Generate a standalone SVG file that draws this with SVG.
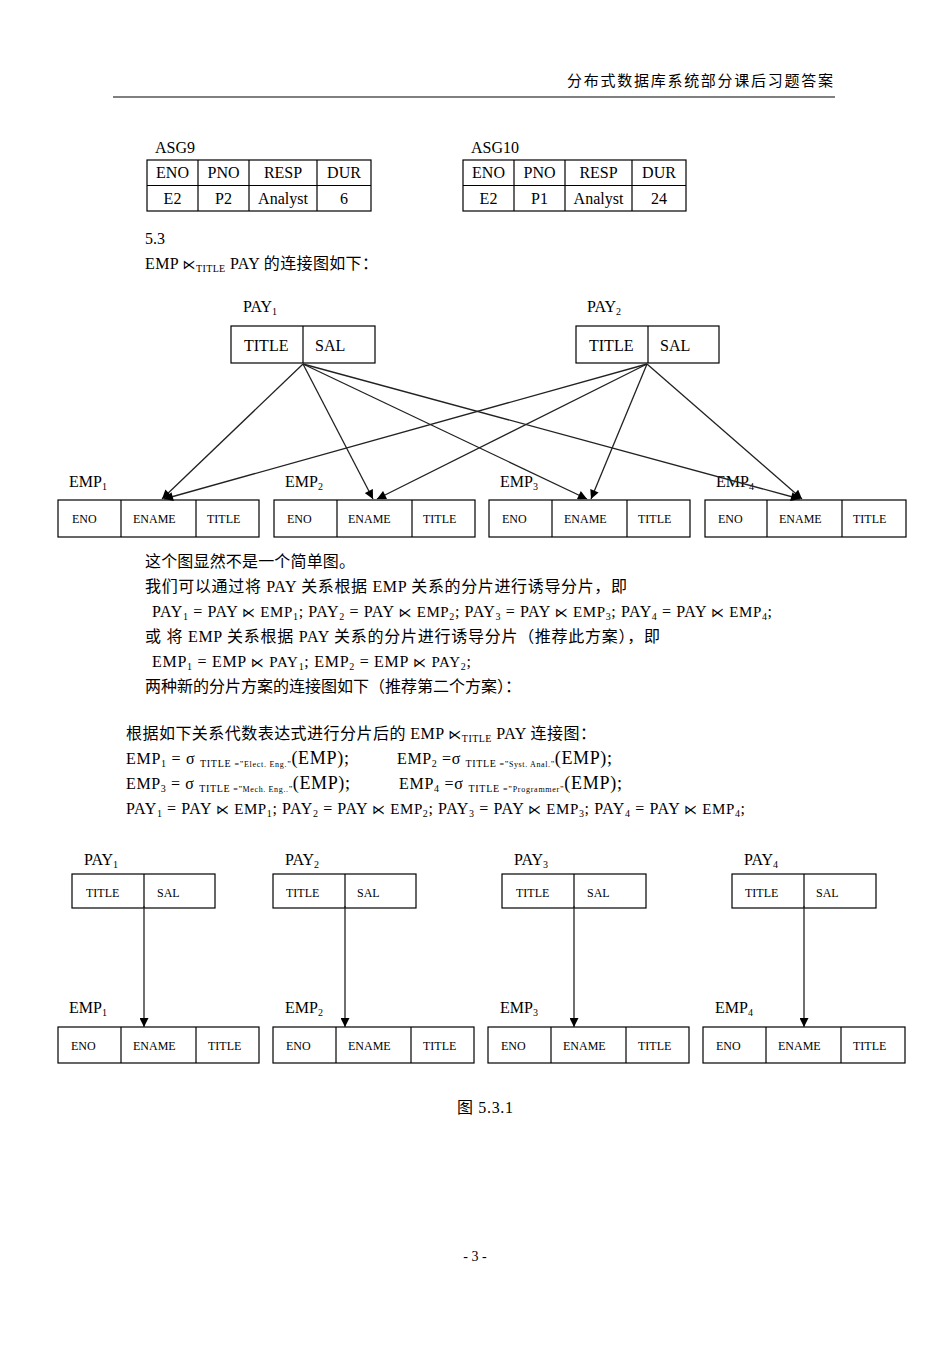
<svg xmlns="http://www.w3.org/2000/svg" width="950" height="1345" viewBox="0 0 950 1345">
<style>
text{font-family:"Liberation Serif","Noto Sans CJK SC",serif;fill:#000}
.b{font-size:16px}
.s{font-size:12px}
.sub{font-size:10px}
.sj{font-family:"DejaVu Sans",sans-serif;font-size:13px}
.box{fill:#fff;stroke:#000;stroke-width:1.2}
.ln{stroke:#000;stroke-width:1.2}
.con{stroke:#222;stroke-width:1.3;fill:none}
.mid{text-anchor:middle}
</style>
<defs>
<marker id="ah" viewBox="0 0 10 10" refX="10" refY="5" markerWidth="10" markerHeight="9" markerUnits="userSpaceOnUse" orient="auto"><path d="M0,0 L10,5 L0,10 z" fill="#000"/></marker>
</defs>
<rect width="950" height="1345" fill="#fff"/>

<g id="header">
<text x="833" y="86" font-size="15" text-anchor="end" textLength="266" font-family="Noto Sans CJK SC, sans-serif">分布式数据库系统部分课后习题答案</text>
<line x1="113" y1="97" x2="835" y2="97" stroke="#000" stroke-width="1"/>
</g>

<g id="asg9">
<text x="155" y="153" class="b">ASG9</text>
<rect x="147" y="160" width="224" height="51" class="box"/>
<line x1="147" y1="185.5" x2="371" y2="185.5" class="ln"/>
<line x1="198" y1="160" x2="198" y2="211" class="ln"/>
<line x1="249" y1="160" x2="249" y2="211" class="ln"/>
<line x1="317" y1="160" x2="317" y2="211" class="ln"/>
<text class="b mid" x="172.5" y="178">ENO</text><text class="b mid" x="223.5" y="178">PNO</text><text class="b mid" x="283" y="178">RESP</text><text class="b mid" x="344" y="178">DUR</text>
<text class="b mid" x="172.5" y="204">E2</text><text class="b mid" x="223.5" y="204">P2</text><text class="b mid" x="283" y="204">Analyst</text><text class="b mid" x="344" y="204">6</text>
</g>

<g id="asg10">
<text x="471" y="153" class="b">ASG10</text>
<rect x="463" y="160" width="223" height="51" class="box"/>
<line x1="463" y1="185.5" x2="686" y2="185.5" class="ln"/>
<line x1="514" y1="160" x2="514" y2="211" class="ln"/>
<line x1="565" y1="160" x2="565" y2="211" class="ln"/>
<line x1="632" y1="160" x2="632" y2="211" class="ln"/>
<text class="b mid" x="488.5" y="178">ENO</text><text class="b mid" x="539.5" y="178">PNO</text><text class="b mid" x="598.5" y="178">RESP</text><text class="b mid" x="659" y="178">DUR</text>
<text class="b mid" x="488.5" y="204">E2</text><text class="b mid" x="539.5" y="204">P1</text><text class="b mid" x="598.5" y="204">Analyst</text><text class="b mid" x="659" y="204">24</text>
</g>

<g id="sec53">
<text x="145" y="244" class="b">5.3</text>
<text x="145" y="269" class="b" textLength="233" lengthAdjust="spacing">EMP <tspan class="sj">⋉</tspan><tspan font-size="10" dy="3">TITLE</tspan><tspan dy="-3"> PAY 的连接图如下：</tspan></text>
</g>

<g id="top-pay1">
<text x="243" y="312" class="b">PAY<tspan class="sub" dy="3">1</tspan></text>
<rect x="231" y="326" width="144" height="37" class="box"/>
<line x1="303" y1="326" x2="303" y2="363" class="ln"/>
<text x="244" y="351" class="b">TITLE</text><text x="315" y="351" class="b">SAL</text>
</g>
<g id="top-pay2">
<text x="587" y="312" class="b">PAY<tspan class="sub" dy="3">2</tspan></text>
<rect x="576" y="326" width="143" height="37" class="box"/>
<line x1="648" y1="326" x2="648" y2="363" class="ln"/>
<text x="589" y="351" class="b">TITLE</text><text x="660" y="351" class="b">SAL</text>
</g>

<g id="top-emp1">
<text x="69" y="487" class="b">EMP<tspan class="sub" dy="3">1</tspan></text>
<rect x="58" y="500" width="201" height="37" class="box"/>
<line x1="121" y1="500" x2="121" y2="537" class="ln"/><line x1="196" y1="500" x2="196" y2="537" class="ln"/>
<text x="72" y="523" class="s">ENO</text><text x="133" y="523" class="s">ENAME</text><text x="207" y="523" class="s">TITLE</text>
</g>
<g id="top-emp2">
<text x="285" y="487" class="b">EMP<tspan class="sub" dy="3">2</tspan></text>
<rect x="274" y="500" width="201" height="37" class="box"/>
<line x1="337" y1="500" x2="337" y2="537" class="ln"/><line x1="412" y1="500" x2="412" y2="537" class="ln"/>
<text x="287" y="523" class="s">ENO</text><text x="348" y="523" class="s">ENAME</text><text x="423" y="523" class="s">TITLE</text>
</g>
<g id="top-emp3">
<text x="500" y="487" class="b">EMP<tspan class="sub" dy="3">3</tspan></text>
<rect x="489" y="500" width="201" height="37" class="box"/>
<line x1="552" y1="500" x2="552" y2="537" class="ln"/><line x1="627" y1="500" x2="627" y2="537" class="ln"/>
<text x="502" y="523" class="s">ENO</text><text x="564" y="523" class="s">ENAME</text><text x="638" y="523" class="s">TITLE</text>
</g>
<g id="top-emp4">
<text x="716" y="487" class="b">EMP<tspan class="sub" dy="3">4</tspan></text>
<rect x="705" y="500" width="201" height="37" class="box"/>
<line x1="767" y1="500" x2="767" y2="537" class="ln"/><line x1="842" y1="500" x2="842" y2="537" class="ln"/>
<text x="718" y="523" class="s">ENO</text><text x="779" y="523" class="s">ENAME</text><text x="853" y="523" class="s">TITLE</text>
</g>

<g id="top-connectors">
<line x1="303" y1="364" x2="162" y2="499" class="con" marker-end="url(#ah)"/>
<line x1="303" y1="364" x2="373" y2="499" class="con" marker-end="url(#ah)"/>
<line x1="303" y1="364" x2="587" y2="499" class="con" marker-end="url(#ah)"/>
<line x1="303" y1="364" x2="800" y2="499" class="con" marker-end="url(#ah)"/>
<line x1="647" y1="364" x2="164" y2="499" class="con" marker-end="url(#ah)"/>
<line x1="647" y1="364" x2="377" y2="499" class="con" marker-end="url(#ah)"/>
<line x1="647" y1="364" x2="591" y2="499" class="con" marker-end="url(#ah)"/>
<line x1="647" y1="364" x2="802" y2="499" class="con" marker-end="url(#ah)"/>
</g>

<g id="paragraph">
<text x="145" y="567" class="b" textLength="210" lengthAdjust="spacing">这个图显然不是一个简单图。</text>
<text x="145" y="592" class="b" textLength="482" lengthAdjust="spacing">我们可以通过将 PAY 关系根据 EMP 关系的分片进行诱导分片，即</text>
<text x="152" y="617" class="b" textLength="620" lengthAdjust="spacing">PAY<tspan class="sub" dy="3">1</tspan><tspan dy="-3"> = PAY </tspan><tspan class="sj">⋉</tspan><tspan font-size="15"> EMP</tspan><tspan class="sub" dy="3">1</tspan><tspan dy="-3">; PAY</tspan><tspan class="sub" dy="3">2</tspan><tspan dy="-3"> = PAY </tspan><tspan class="sj">⋉</tspan><tspan font-size="15"> EMP</tspan><tspan class="sub" dy="3">2</tspan><tspan dy="-3">; PAY</tspan><tspan class="sub" dy="3">3</tspan><tspan dy="-3"> = PAY </tspan><tspan class="sj">⋉</tspan><tspan font-size="15"> EMP</tspan><tspan class="sub" dy="3">3</tspan><tspan dy="-3">; PAY</tspan><tspan class="sub" dy="3">4</tspan><tspan dy="-3"> = PAY </tspan><tspan class="sj">⋉</tspan><tspan font-size="15"> EMP</tspan><tspan class="sub" dy="3">4</tspan><tspan dy="-3">;</tspan></text>
<text x="145" y="642" class="b" textLength="515" lengthAdjust="spacing">或  将 EMP 关系根据 PAY 关系的分片进行诱导分片（推荐此方案），即</text>
<text x="152" y="667" class="b" textLength="319" lengthAdjust="spacing">EMP<tspan class="sub" dy="3">1</tspan><tspan dy="-3"> = EMP </tspan><tspan class="sj">⋉</tspan><tspan font-size="15"> PAY</tspan><tspan class="sub" dy="3">1</tspan><tspan dy="-3">; EMP</tspan><tspan class="sub" dy="3">2</tspan><tspan dy="-3"> = EMP </tspan><tspan class="sj">⋉</tspan><tspan font-size="15"> PAY</tspan><tspan class="sub" dy="3">2</tspan><tspan dy="-3">;</tspan></text>
<text x="145" y="692" class="b">两种新的分片方案的连接图如下（推荐第二个方案）：</text>
</g>

<g id="formulas">
<text x="126" y="739" class="b" textLength="470" lengthAdjust="spacing">根据如下关系代数表达式进行分片后的 EMP <tspan class="sj">⋉</tspan><tspan font-size="10" dy="3">TITLE</tspan><tspan dy="-3"> PAY 连接图：</tspan></text>
<text x="126" y="764" class="b" textLength="223" lengthAdjust="spacing">EMP<tspan class="sub" dy="3">1</tspan><tspan dy="-3"> = σ </tspan><tspan font-size="10" dy="3">TITLE </tspan><tspan font-size="8">=”Elect. Eng.”</tspan><tspan font-size="18" dy="-3">(EMP);</tspan></text>
<text x="397" y="764" class="b" textLength="215" lengthAdjust="spacing">EMP<tspan class="sub" dy="3">2</tspan><tspan dy="-3"> =σ </tspan><tspan font-size="10" dy="3">TITLE </tspan><tspan font-size="8">=”Syst. Anal.”</tspan><tspan font-size="18" dy="-3">(EMP);</tspan></text>
<text x="126" y="789" class="b" textLength="224" lengthAdjust="spacing">EMP<tspan class="sub" dy="3">3</tspan><tspan dy="-3"> = σ </tspan><tspan font-size="10" dy="3">TITLE </tspan><tspan font-size="8">=”Mech. Eng..”</tspan><tspan font-size="18" dy="-3">(EMP);</tspan></text>
<text x="399" y="789" class="b" textLength="223" lengthAdjust="spacing">EMP<tspan class="sub" dy="3">4</tspan><tspan dy="-3"> =σ </tspan><tspan font-size="10" dy="3">TITLE </tspan><tspan font-size="8">=”Programmer”</tspan><tspan font-size="18" dy="-3">(EMP);</tspan></text>
<text x="126" y="814" class="b" textLength="619" lengthAdjust="spacing">PAY<tspan class="sub" dy="3">1</tspan><tspan dy="-3"> = PAY </tspan><tspan class="sj">⋉</tspan><tspan font-size="15"> EMP</tspan><tspan class="sub" dy="3">1</tspan><tspan dy="-3">; PAY</tspan><tspan class="sub" dy="3">2</tspan><tspan dy="-3"> = PAY </tspan><tspan class="sj">⋉</tspan><tspan font-size="15"> EMP</tspan><tspan class="sub" dy="3">2</tspan><tspan dy="-3">; PAY</tspan><tspan class="sub" dy="3">3</tspan><tspan dy="-3"> = PAY </tspan><tspan class="sj">⋉</tspan><tspan font-size="15"> EMP</tspan><tspan class="sub" dy="3">3</tspan><tspan dy="-3">; PAY</tspan><tspan class="sub" dy="3">4</tspan><tspan dy="-3"> = PAY </tspan><tspan class="sj">⋉</tspan><tspan font-size="15"> EMP</tspan><tspan class="sub" dy="3">4</tspan><tspan dy="-3">;</tspan></text>
</g>

<g id="bot-pay1">
<text x="84" y="865" class="b">PAY<tspan class="sub" dy="3">1</tspan></text>
<rect x="72" y="874" width="143" height="34" class="box"/>
<line x1="144" y1="874" x2="144" y2="908" class="ln"/>
<text x="86" y="897" class="s">TITLE</text><text x="157" y="897" class="s">SAL</text>
</g>
<g id="bot-pay2">
<text x="285" y="865" class="b">PAY<tspan class="sub" dy="3">2</tspan></text>
<rect x="273" y="874" width="143" height="34" class="box"/>
<line x1="345" y1="874" x2="345" y2="908" class="ln"/>
<text x="286" y="897" class="s">TITLE</text><text x="357" y="897" class="s">SAL</text>
</g>
<g id="bot-pay3">
<text x="514" y="865" class="b">PAY<tspan class="sub" dy="3">3</tspan></text>
<rect x="502" y="874" width="144" height="34" class="box"/>
<line x1="574" y1="874" x2="574" y2="908" class="ln"/>
<text x="516" y="897" class="s">TITLE</text><text x="587" y="897" class="s">SAL</text>
</g>
<g id="bot-pay4">
<text x="744" y="865" class="b">PAY<tspan class="sub" dy="3">4</tspan></text>
<rect x="732" y="874" width="144" height="34" class="box"/>
<line x1="804" y1="874" x2="804" y2="908" class="ln"/>
<text x="745" y="897" class="s">TITLE</text><text x="816" y="897" class="s">SAL</text>
</g>

<g id="bot-emp1">
<text x="69" y="1013" class="b">EMP<tspan class="sub" dy="3">1</tspan></text>
<rect x="58" y="1027" width="201" height="36" class="box"/>
<line x1="121" y1="1027" x2="121" y2="1063" class="ln"/><line x1="196" y1="1027" x2="196" y2="1063" class="ln"/>
<text x="71" y="1050" class="s">ENO</text><text x="133" y="1050" class="s">ENAME</text><text x="208" y="1050" class="s">TITLE</text>
</g>
<g id="bot-emp2">
<text x="285" y="1013" class="b">EMP<tspan class="sub" dy="3">2</tspan></text>
<rect x="273" y="1027" width="201" height="36" class="box"/>
<line x1="336" y1="1027" x2="336" y2="1063" class="ln"/><line x1="411" y1="1027" x2="411" y2="1063" class="ln"/>
<text x="286" y="1050" class="s">ENO</text><text x="348" y="1050" class="s">ENAME</text><text x="423" y="1050" class="s">TITLE</text>
</g>
<g id="bot-emp3">
<text x="500" y="1013" class="b">EMP<tspan class="sub" dy="3">3</tspan></text>
<rect x="488" y="1027" width="201" height="36" class="box"/>
<line x1="551" y1="1027" x2="551" y2="1063" class="ln"/><line x1="626" y1="1027" x2="626" y2="1063" class="ln"/>
<text x="501" y="1050" class="s">ENO</text><text x="563" y="1050" class="s">ENAME</text><text x="638" y="1050" class="s">TITLE</text>
</g>
<g id="bot-emp4">
<text x="715" y="1013" class="b">EMP<tspan class="sub" dy="3">4</tspan></text>
<rect x="703" y="1027" width="202" height="36" class="box"/>
<line x1="766" y1="1027" x2="766" y2="1063" class="ln"/><line x1="841" y1="1027" x2="841" y2="1063" class="ln"/>
<text x="716" y="1050" class="s">ENO</text><text x="778" y="1050" class="s">ENAME</text><text x="853" y="1050" class="s">TITLE</text>
</g>

<g id="bot-connectors">
<line x1="144" y1="906" x2="144" y2="1027" class="con" marker-end="url(#ah)"/>
<line x1="345" y1="906" x2="345" y2="1027" class="con" marker-end="url(#ah)"/>
<line x1="574" y1="906" x2="574" y2="1027" class="con" marker-end="url(#ah)"/>
<line x1="804" y1="906" x2="804" y2="1027" class="con" marker-end="url(#ah)"/>
</g>

<g id="caption">
<text x="457" y="1113" class="b" textLength="56" lengthAdjust="spacing">图  5.3.1</text>
<text x="475" y="1261" font-size="14" text-anchor="middle">- 3 -</text>
</g>
</svg>
